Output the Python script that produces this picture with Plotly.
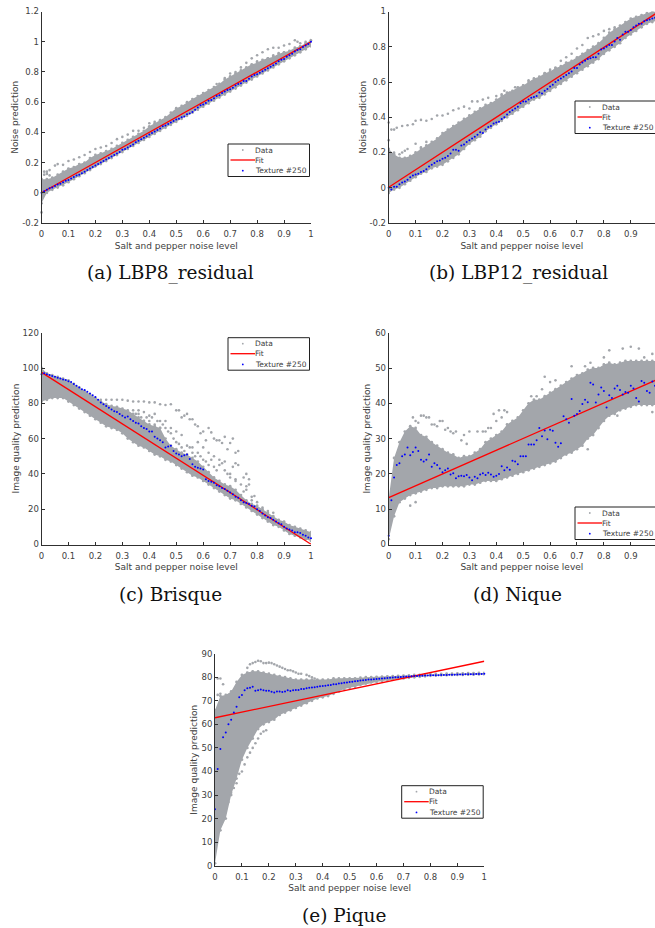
import plotly.graph_objects as go

W, H = 655, 928
GREY = "#a3a6ab"
INK = "#404040"

level_band = [i / 50 for i in range(51)]
level_tex = [i / 100 for i in range(101)]
fit_x = [0, 1]
x_ticks = [0, .1, .2, .3, .4, .5, .6, .7, .8, .9, 1]
x_labels = ["0", "0.1", "0.2", "0.3", "0.4", "0.5", "0.6", "0.7", "0.8", "0.9", "1"]
x_labels_cut = ["0", "0.1", "0.2", "0.3", "0.4", "0.5", "0.6", "0.7", "0.8", "0.9", ""]

# ---------- (a) LBP8_residual
a_high = [.09,.09,.10,.12,.14,.16,.17,.19,.20,.23,
          .25,.26,.275,.29,.31,.33,.35,.37,.39,.41,
          .44,.46,.48,.50,.53,.56,.575,.60,.62,.64,
          .66,.68,.70,.72,.75,.77,.79,.81,.83,.85,
          .86,.88,.89,.90,.92,.93,.94,.96,.97,.99,1.01]
a_low = [-.07,.0,.02,.035,.05,.07,.09,.11,.13,.15,
         .175,.19,.21,.23,.25,.27,.29,.31,.33,.35,
         .37,.39,.41,.43,.45,.47,.49,.51,.53,.55,
         .57,.59,.61,.63,.65,.67,.69,.71,.73,.75,
         .77,.79,.81,.83,.85,.87,.89,.91,.93,.95,.97]
a_out_x = [0,.01,.02,.03,.05,.06,.08,.1,.12,.14,.16,.18,.2,.22,.24,.26,.28,.3,.32,.34,.36,.38,.4,.42,.44,
           .65,.68,.7,.72,.74,.76,.78,.8,.82,.84,.86,.88,.9,.92,.94,.95,.96,.98,1,
           .01,.02,.03,.66,.7,.72,.76,.78,.8,.84,.86,.88,.9]
a_out_y = [-.13,.14,.14,.15,.18,.19,.185,.21,.22,.235,.25,.27,.29,.30,.31,.33,.355,.37,.385,.41,.41,.43,.46,.47,.47,
           .72,.76,.79,.80,.83,.86,.89,.91,.93,.95,.96,.96,.975,.985,1.01,1.0,.99,1.0,1.01,
           .12,.125,.115,.70,.74,.75,.79,.83,.87,.89,.91,.925,.93]
a_tex = [0,.01,.02,.03,.035,.045,.055,.06,.07,.08,
         .085,.095,.105,.115,.12,.13,.14,.15,.16,.17,
         .18,.19,.20,.21,.22,.23,.24,.25,.26,.27,
         .285,.29,.30,.31,.32,.335,.345,.355,.365,.375,
         .385,.395,.405,.415,.425,.44,.445,.455,.465,.475,
         .485,.49,.50,.505,.52,.525,.535,.55,.565,.58,
         .585,.595,.61,.615,.625,.64,.645,.66,.67,.68,
         .685,.695,.71,.72,.725,.74,.74,.755,.77,.78,
         .785,.795,.805,.815,.825,.835,.845,.855,.87,.88,
         .885,.90,.91,.92,.935,.945,.95,.965,.975,.985,1.0]
a_fit = [0, 1]
a_yticks = [-.2, 0, .2, .4, .6, .8, 1, 1.2]
a_ylabels = ["-0.2", "0", "0.2", "0.4", "0.6", "0.8", "1", "1.2"]

# ---------- (b) LBP12_residual
b_high = [.22,.19,.17,.17,.18,.20,.22,.24,.26,.28,
          .31,.33,.35,.37,.39,.41,.43,.45,.47,.48,
          .50,.52,.54,.55,.57,.58,.60,.62,.63,.65,
          .66,.68,.69,.71,.72,.74,.76,.78,.80,.82,
          .85,.88,.90,.92,.94,.96,.97,.98,.99,1.0,1.0]
b_low = [-.03,-.01,.0,.02,.04,.06,.08,.09,.11,.12,
         .13,.15,.17,.19,.22,.25,.27,.29,.32,.34,
         .36,.38,.40,.42,.44,.46,.48,.50,.51,.53,
         .55,.57,.59,.61,.63,.65,.67,.69,.71,.73,
         .76,.78,.80,.82,.85,.87,.89,.91,.93,.94,.95]
b_out_x = [0,0,.01,.02,.03,.05,.07,.09,.1,.12,.14,.16,.18,.2,.22,.24,.26,.28,.3,.31,.33,.35,.37,.4,.42,.43,.45,.47,
           .5,.52,.54,.56,.58,.6,.62,.64,.66,.68,.7,.72,.74,.76,.78,.8,.82,.84,
           .02,.04,.05,.06,.07,.1,.12,.14]
b_out_y = [.37,.27,.33,.33,.34,.35,.355,.36,.38,.385,.38,.39,.41,.41,.42,.44,.45,.46,.45,.49,.49,.5,.51,.52,.53,.55,.54,.57,
           .58,.61,.6,.62,.65,.67,.68,.72,.74,.76,.79,.81,.85,.86,.87,.89,.9,.91,
           .2,.19,.2,.21,.22,.25,.23,.26]
b_tex = [0,-.01,.005,.005,.02,.03,.035,.045,.06,.07,
         .075,.08,.09,.095,.105,.12,.13,.14,.15,.155,
         .165,.17,.18,.195,.215,.215,.21,.24,.245,.26,
         .27,.28,.29,.30,.315,.31,.33,.345,.35,.365,
         .37,.375,.39,.40,.415,.43,.44,.45,.46,.48,
         .49,.49,.50,.51,.515,.52,.54,.535,.55,.56,
         .575,.585,.60,.61,.62,.63,.64,.65,.66,.68,
         .68,.70,.71,.72,.73,.735,.74,.74,.76,.785,
         .79,.80,.81,.81,.83,.85,.84,.87,.885,.885,
         .895,.91,.92,.93,.93,.945,.95,.955,.96,.965,.97]
b_fit = [.003, .995]
b_yticks = [-.2, 0, .2, .4, .6, .8, 1]
b_ylabels = ["-0.2", "0", "0.2", "0.4", "0.6", "0.8", "1"]

# ---------- (c) Brisque
c_high = [100,97,96,95,94,93,91,89,87,85,
          83,81,79.5,78.5,78,77,76,74,72,70,
          68,67,66,60,56,54,52,51,49,47,
          44,41,38,36,34,33,31,28,25,23,
          22,20,18,16,14,13,11,10,9,8,7]
c_low = [81,82,83,83,83,81,79,77,75,73,
         71,69,67,66,65,63,60,58,56,55,
         53,51,50,48,47,45,43,41,39,38,
         36,34,32,30,28,26,25,23,21,19,
         17,15,13,11,10,8,6,5,4,3,2]
c_out_x = [.22,.24,.26,.28,.3,.32,.34,.36,.38,.4,.42,.44,.46,.48,.5,.51,.52,.53,.54,.55,.56,.57,.58,.59,.6,.61,.62,.63,.64,.65,.66,.67,.68,.69,.7,.71,.72,.73,.72,.73,.75,.76,.77,.76,.77,
           .46,.48,.5,.52,.54,.56,.58,.6,.62,.64,.66,.68,.7,.72,.78,.79,.86,.36,.38,.4,.42,.44,
           .34,.35,.36,.37,.38,.39,.4,.41,.42,.43,.44,.45,.46,.47,.48,.49,.5,.51,.52,.53,.55,.56,.57,.58,.59,.6,.61,.62,.63,.64,.65,.66,.67,.68,.69,.7,.71,.72,.74,.75,.76,.78,.8,.82,.84]
c_out_y = [82,82,82,82,82,81.5,81,81,81,80.5,80.5,79.5,79,79.5,76,76,72,73,74,71,71,68,67,63,64,59,66,63.5,60,59,59,57.5,61,54,57.5,60,52,53,46,45,38,40,37,33,34,
           70,66,64,62,56,55,58,55,52,50,48,47,40,37,27,27.5,18,74,75,73,74,70,
           76,74,76,72,70,72,70,72,68,70,66,68,66,64,63,60,58,57,55,53,55,52,50,52,50,48,47,45,48,44,42,45,46,42,40,38,44,36,34,30,31,25,24,21,19]
c_tex = [96.5,97,96.5,96,95.5,95,94.5,94,93.5,93.2,
         92.5,92,91,90,89,88,87.5,86.5,85.5,84.5,
         83.5,82,80.5,79.5,78.5,77.5,76.5,75.5,75,74,
         73,72,72.5,71,70,69,68.5,67,66,65.5,
         64,64,61,60,59,58,55,55.5,56,53,
         51.5,51,50,50.5,51,48.5,45.5,44,43.5,43,
         42.5,37,36,35.5,35,33.5,33,32,31.5,30.5,
         29.5,28.5,27,26.5,25,24,23.5,23,22,21.5,
         20,19,17.5,16.5,15.5,15,14,13,12,11.5,
         10,9,8.5,8,7,7,6.5,5.5,5,4,3.5]
c_fit = [97.5, 0.2]
c_yticks = [0, 20, 40, 60, 80, 100, 120]
c_ylabels = ["0", "20", "40", "60", "80", "100", "120"]

# ---------- (d) Nique
d_high = [13,24.5,29,32,33.5,33,31,30.5,29,28,
          27,26,25.5,24.5,25,25,26,27,29,30,
          31,32,34,35,36,38,40,41,41,42,
          43,44,45,46,47,48,48.5,49.5,50,50,
          51,51.5,51,51.5,52,52,52,52,52,52,52]
d_low = [1.5,8,12,13,14,14.5,15,15.5,16,16,
         16.5,16.5,16.5,16.5,16.5,17,17,17.5,18,18,
         18,18.5,19,19.5,20,20.5,21,21.5,22,22.5,
         23,23.5,24.5,25.5,26,27,28,30,31,33,
         35,36.5,37,38,38.5,39,39.5,39.5,39.5,39.5,39.5]
d_out_x = [.09,.1,.11,.12,.13,.14,.15,.16,.17,.18,.19,.2,.21,.22,.23,.24,.25,.27,.28,.29,.3,.33,.35,.36,.37,.38,.39,.4,.41,.42,.43,.44,
           .53,.55,.57,.58,.6,.62,.68,.73,.75,.8,.82,.87,.9,.93,.95,.98,.08,.1,.74,.98,.85]
d_out_y = [36,35,34.5,36.5,36.5,36,36,34,34,33.5,35,35,32.5,33,32,31.5,32,29.5,31,28.5,32,32,32,32,33,33,37,35,38,36,38,37.5,
           42,42,44,47.5,46,46.5,50.5,50.5,51.5,53,55,55.5,56,55.5,53,54,11,12,27,37.5,36.5]
d_tex = [2.5,12.5,19,22.5,23,25,25.5,27.5,25.3,26.2,
         27.5,26.5,24,23.5,24,25.5,22,23,22.5,21.5,
         20.5,21,21.5,19.8,20.2,18.8,19.3,19.5,19.3,19.7,
         19,18.2,19.2,18.8,19.8,20.2,19.7,20.3,19.8,19.2,
         19.5,20,22.2,21,21.8,21.2,23.7,23.5,22.7,25,
         25,25,28.3,28.3,28.3,29.5,33,30.7,32.3,29.8,
         32.5,32.2,28.8,27.7,28.7,36.3,35.5,34.5,41.2,36.5,
         37,37.8,39.8,41,40.3,45.8,45.3,40.2,42.5,44.5,
         43.5,38.8,42.3,41.5,44.2,45,43.8,42.5,43.2,43,
         45,44.2,41.5,40.5,46.3,45.8,43.5,43,46.2,45,46]
d_fit = [13.3, 46.8]
d_yticks = [0, 10, 20, 30, 40, 50, 60]
d_ylabels = ["0", "10", "20", "30", "40", "50", "60"]

# ---------- (e) Pique
e_high = [66,72,72.5,74,78,81,82,82.5,82.5,82,
          81.5,81,80.5,80,79.5,79,79,79,79,79,
          79,79,79.5,79.5,79.5,79.5,79.5,79.8,80,80,
          80.2,80.3,80.4,80.5,80.6,80.7,80.8,81,81,81.2,
          81.3,81.4,81.4,81.5,81.5,81.6,81.6,81.7,81.7,81.8,81.8]
e_low = [1,15,20,30,37,45,50,54,58,60,
         61,62,64,65,66,67,68,69,70,71,
         71.5,72,73,74,75,75.5,76,76.8,77.3,77.8,
         78,78.4,78.8,79,79.3,79.5,79.8,80,80.2,80.4,
         80.6,80.7,80.8,80.9,81,81,81,81.1,81.1,81.2,81.2]
e_out_x = [.12,.13,.14,.15,.16,.17,.18,.19,.2,.21,.22,.23,.24,.25,.26,.27,.28,.29,.3,.31,.32,.34,.35,.36,.37,
           .01,.02,.01,.02,.03,.03,.05,.06,.07,.08,.09,.1,.11,.12,.13,.14,.15,.16,.17,.18,.19]
e_out_y = [84,85.5,86,86.5,87,86.8,86,86,86.2,86,85.5,85,84.5,84,83.5,83,83,82.5,82,81.5,81.5,81,80.5,80,79.5,
           79.5,79.5,72.5,73,77,23,27,31,33,35,39,40,43,46,48,50,52,54,56,57,57.5]
e_tex = [24,41,49.5,54.5,56.5,60,62,65,67.5,71.5,
         72.5,74.5,75.3,75.5,76,74.3,74.5,74.8,74.5,74.3,
         74.3,73.8,73.5,74,74,73.7,74,74.5,74.2,74.5,
         74.6,74.6,75,75,75.3,75.5,75.7,75.8,76,76.2,
         76.3,76.4,76.6,76.7,77,77,77.4,77.5,77.7,77.8,
         78,78.1,78.3,78.4,78.6,78.7,78.8,79,79,79.2,
         79.3,79.4,79.5,79.6,79.7,79.8,79.9,80,80,80.1,
         80.2,80.3,80.3,80.4,80.5,80.5,80.6,80.6,80.7,80.7,
         80.8,80.8,80.9,80.9,81,81,81,81.1,81.1,81.1,
         81.2,81.2,81.2,81.3,81.3,81.3,81.3,81.4,81.4,81.4,81.5]
e_fit = [62.8, 86.8]
e_yticks = [0, 10, 20, 30, 40, 50, 60, 70, 80, 90]
e_ylabels = ["0", "10", "20", "30", "40", "50", "60", "70", "80", "90"]

y_title_noise = "Noise prediction"
y_title_quality = "Image quality prediction"
x_title = "Salt and pepper noise level"
series_names = ["Data", "Fit", "Texture #250"]


def fx(p):
    return p / W


def fy(p):
    return 1 - p / H


panels = [
    dict(high=a_high, low=a_low, ox=a_out_x, oy=a_out_y, tex=a_tex, fit=a_fit, yt=a_yticks, yl=a_ylabels,
         ytitle=y_title_noise, box=(41.5, 311, 11.5, 223), xr=[0, 1], yr=[-.2, 1.2], xl=x_labels,
         cap="(a) LBP8_residual", cx=170, cy=273, leg=(228, 144), open_right=False, stand=1.5),
    dict(high=b_high, low=b_low, ox=b_out_x, oy=b_out_y, tex=b_tex, fit=b_fit, yt=b_yticks, yl=b_ylabels,
         ytitle=y_title_noise, box=(388.7, 655, 11.5, 223), xr=[0, .99], yr=[-.2, 1], xl=x_labels_cut,
         cap="(b) LBP12_residual", cx=518, cy=273, leg=(575, 101), open_right=True, stand=0.5),
    dict(high=c_high, low=c_low, ox=c_out_x, oy=c_out_y, tex=c_tex, fit=c_fit, yt=c_yticks, yl=c_ylabels,
         ytitle=y_title_quality, box=(41.5, 311, 332.7, 544.5), xr=[0, 1], yr=[0, 120], xl=x_labels,
         cap="(c) Brisque", cx=170.5, cy=594, leg=(228, 337.7), open_right=False, stand=1),
    dict(high=d_high, low=d_low, ox=d_out_x, oy=d_out_y, tex=d_tex, fit=d_fit, yt=d_yticks, yl=d_ylabels,
         ytitle=y_title_quality, box=(388.7, 655, 332.7, 544.5), xr=[0, .99], yr=[0, 60], xl=x_labels_cut,
         cap="(d) Nique", cx=517.5, cy=594, leg=(575, 507), open_right=True, stand=2.5),
    dict(high=e_high, low=e_low, ox=e_out_x, oy=e_out_y, tex=e_tex, fit=e_fit, yt=e_yticks, yl=e_ylabels,
         ytitle=y_title_quality, box=(215, 484.3, 653.7, 865.7), xr=[0, 1], yr=[0, 90], xl=x_labels,
         cap="(e) Pique", cx=344, cy=915, leg=(401.7, 785.7), open_right=False, stand=2),
]

fig = go.Figure()
layout = dict(
    width=W, height=H, margin=dict(l=0, r=0, t=0, b=0), showlegend=False,
    paper_bgcolor="white", plot_bgcolor="white",
    font=dict(family="DejaVu Sans", size=8, color=INK),
)
shapes, annotations = [], []

for i, p in enumerate(panels, start=1):
    suffix = "" if i == 1 else str(i)
    xa, ya = "x" + suffix, "y" + suffix
    l, r, t, b = p["box"]
    # the cloud of texture scores, drawn from its lower and upper edges
    edge = dict(color=GREY, size=2.8)
    fig.add_trace(go.Scatter(x=level_band, y=p["low"], mode="lines+markers", marker=edge,
                             line=dict(width=0, color=GREY), name=series_names[0],
                             xaxis=xa, yaxis=ya, hoverinfo="skip"))
    fig.add_trace(go.Scatter(x=level_band, y=p["high"], mode="lines+markers", marker=edge,
                             line=dict(width=0, color=GREY), fill="tonexty", fillcolor=GREY,
                             name=series_names[0], xaxis=xa, yaxis=ya, hoverinfo="skip"))
    fig.add_trace(go.Scatter(x=p["ox"], y=p["oy"], mode="markers", name=series_names[0],
                             marker=dict(color=GREY, size=2.6), xaxis=xa, yaxis=ya, cliponaxis=False))
    fig.add_trace(go.Scatter(x=fit_x, y=p["fit"], mode="lines", name=series_names[1],
                             line=dict(color="#ff0000", width=1.3), xaxis=xa, yaxis=ya))
    fig.add_trace(go.Scatter(x=level_tex, y=p["tex"], mode="markers", name=series_names[2],
                             marker=dict(color="#0000ff", size=2), xaxis=xa, yaxis=ya, cliponaxis=False))
    axis_style = dict(showgrid=False, zeroline=False, showline=True, linecolor="#303030", linewidth=1,
                      ticks="inside", ticklen=3, tickwidth=1, tickcolor="#303030", automargin=False,
                      tickfont=dict(family="DejaVu Sans", size=8.5, color=INK), tickangle=0)
    layout["xaxis" + suffix] = dict(domain=[fx(l), fx(r)], range=p["xr"], tickmode="array",
                                    tickvals=x_ticks, ticktext=p["xl"], anchor=ya, ticklabelstandoff=3,
                                    title=dict(text=x_title, font=dict(family="DejaVu Sans", size=9, color=INK), standoff=3.5),
                                    **axis_style)
    layout["yaxis" + suffix] = dict(domain=[fy(b), fy(t)], range=p["yr"], tickmode="array",
                                    tickvals=p["yt"], ticktext=p["yl"], anchor=xa,
                                    title=dict(text=p["ytitle"], font=dict(family="DejaVu Sans", size=9, color=INK), standoff=p["stand"]),
                                    **axis_style)
    annotations.append(dict(x=fx(p["cx"]), y=fy(p["cy"]), xref="paper", yref="paper", text=p["cap"],
                            showarrow=False, xanchor="center", yanchor="middle",
                            font=dict(family="DejaVu Serif", size=18.5, color="#111111")))
    # legend panel, placed like the reference's (text stays real text)
    lx, ly = p["leg"]
    lw, lh = 81.5, 32.5
    x0, x1, y0, y1 = fx(lx), fx(lx + lw), fy(ly), fy(ly + lh)
    frame = dict(type="rect", xref="paper", yref="paper", x0=x0, x1=x1, y0=y0, y1=y1,
                 line=dict(color="#202020", width=1), fillcolor="white")
    if p["open_right"]:
        frame = dict(type="path", xref="paper", yref="paper",
                     path=f"M 1,{y0} L {x0},{y0} L {x0},{y1} L 1,{y1}",
                     line=dict(color="#202020", width=1))
        shapes.append(dict(type="rect", xref="paper", yref="paper", x0=x0, x1=1, y0=y0, y1=y1,
                           line=dict(width=0), fillcolor="white"))
    shapes.append(frame)
    rows = [ly + 6, ly + 16, ly + 26.7]
    shapes.append(dict(type="line", xref="paper", yref="paper", x0=fx(lx + 2.5), x1=fx(lx + 27),
                       y0=fy(rows[1]), y1=fy(rows[1]), line=dict(color="#ff0000", width=1.3)))
    for row, col in ((rows[0], GREY), (rows[2], "#0000ff")):
        shapes.append(dict(type="circle", xref="paper", yref="paper", x0=fx(lx + 13.9), x1=fx(lx + 15.7),
                           y0=fy(row + 0.9), y1=fy(row - 0.9), line=dict(width=0), fillcolor=col))
    for row, name in zip(rows, series_names):
        annotations.append(dict(x=fx(lx + 29), y=fy(row), xref="paper", yref="paper", text=name,
                                showarrow=False, xanchor="left", yanchor="middle", xshift=-4,
                                font=dict(family="DejaVu Sans", size=7.5, color=INK)))

layout["shapes"] = shapes
layout["annotations"] = annotations
fig.update_layout(**layout)
fig.write_html("out.html", config=dict(displayModeBar=False),
               post_script="document.body.style.margin='0';document.body.style.overflow='hidden';")
